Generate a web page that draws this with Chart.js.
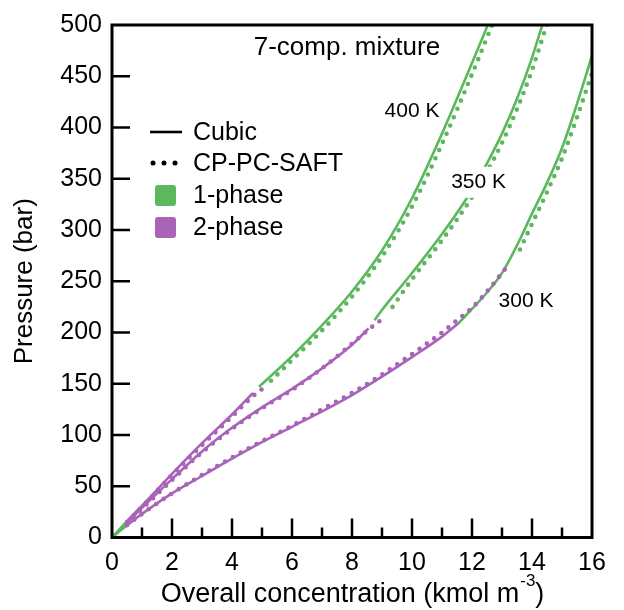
<!DOCTYPE html>
<html lang="en">
<head>
<meta charset="UTF-8">
<title>7-comp. mixture</title>
<style>
  body { margin: 0; background: #fff; }
  canvas { display: block; }
</style>
</head>
<body>
<canvas id="myChart" width="624" height="610"></canvas>
<script src="https://cdn.jsdelivr.net/npm/chart.js"></script>
<script>
// concentration (kmol m-3) and pressure (bar)
const vapX = [0, 0.5];
const vap400Y = [0, 16];
const vap350Y = [0, 14.5];
const vap300Y = [0, 12];

const cubic400TwoX = [0.5, 1, 2, 3, 4, 4.7];
const cubic400TwoY = [16, 31, 62, 92, 120, 141];
const cubic400OneX = [4.9, 6, 7, 8, 9, 10, 11, 12, 12.5, 12.6];
const cubic400OneY = [147, 177, 207, 240, 280, 331, 394, 463, 498, 505];
const saft400TwoX = [0.5, 1, 2, 3, 4, 4.7, 5.1];
const saft400TwoY = [15, 30, 61, 90, 118, 138, 147];
const saft400OneX = [5.3, 6, 7, 8, 9, 10, 11, 12, 12.7];
const saft400OneY = [153, 173, 202, 235, 274, 323, 384, 452, 502];

const cubic350TwoX = [0.5, 1, 2, 3, 4, 5, 6, 7, 8, 8.55];
const cubic350TwoY = [14.5, 29, 57, 84, 107, 127, 145, 165, 188, 204];
const cubic350OneX = [8.75, 9, 10, 11, 12, 12.5, 13, 13.5, 14, 14.3, 14.4];
const cubic350OneY = [212, 222, 258, 296, 339, 365, 394, 428, 468, 496, 505];
const saft350TwoX = [0.5, 1, 2, 3, 4, 5, 6, 7, 8, 8.6, 9.05];
const saft350TwoY = [14, 28, 56, 83, 106, 126, 144, 165, 189, 204, 214];
const saft350OneX = [9.35, 10, 11, 12, 12.5, 13, 13.5, 14, 14.5];
const saft350OneY = [225, 252, 290, 332, 357, 385, 418, 456, 501];

const cubic300TwoX = [0.5, 1, 2, 3, 4, 5, 6, 7, 8, 9, 10, 11, 11.55];
const cubic300TwoY = [12, 23, 43, 60, 77, 93, 108, 123, 139, 157, 176, 196, 209];
const cubic300OneX = [11.55, 12, 12.5, 13, 13.5, 14, 14.5, 15, 15.5, 16];
const cubic300OneY = [209, 223, 239, 258, 285, 316, 346, 380, 423, 470];
const saft300TwoX = [0.5, 1, 2, 3, 4, 5, 6, 7, 8, 9, 10, 11, 11.5, 12, 12.5, 13, 13.25];
const saft300TwoY = [12, 23, 43, 61, 78, 94, 109, 125, 141, 159, 179, 200, 212, 224, 240, 258, 267];
const saft300OneX = [13.6, 14, 14.5, 15, 15.5, 16];
const saft300OneY = [281, 306, 337, 370, 410, 453];

const xTicks = [0, 2, 4, 6, 8, 10, 12, 14, 16];
const yTicks = [0, 50, 100, 150, 200, 250, 300, 350, 400, 450, 500];

const GREEN = '#5cb85c';
const PURPLE = '#a864b6';
const FONT = '"Liberation Sans", Arial, sans-serif';

function pts(xs, ys) {
    return xs.map((v, i) => ({ x: v, y: ys[i] }));
}
function solid(xs, ys, color) {
    return {
        data: pts(xs, ys), borderColor: color, borderWidth: 2.6,
        pointRadius: 0, cubicInterpolationMode: 'monotone', order: 2
    };
}
function dotted(xs, ys, color) {
    return {
        data: pts(xs, ys), borderColor: color, borderWidth: 4.6,
        borderDash: [0, 9], borderCapStyle: 'round',
        pointRadius: 0, cubicInterpolationMode: 'monotone', order: 1
    };
}

const datasets = [
    solid(vapX, vap400Y, GREEN), solid(vapX, vap350Y, GREEN), solid(vapX, vap300Y, GREEN),
    solid(cubic400TwoX, cubic400TwoY, PURPLE), solid(cubic400OneX, cubic400OneY, GREEN),
    solid(cubic350TwoX, cubic350TwoY, PURPLE), solid(cubic350OneX, cubic350OneY, GREEN),
    solid(cubic300TwoX, cubic300TwoY, PURPLE), solid(cubic300OneX, cubic300OneY, GREEN),
    dotted(saft400TwoX, saft400TwoY, PURPLE), dotted(saft400OneX, saft400OneY, GREEN),
    dotted(saft350TwoX, saft350TwoY, PURPLE), dotted(saft350OneX, saft350OneY, GREEN),
    dotted(saft300TwoX, saft300TwoY, PURPLE), dotted(saft300OneX, saft300OneY, GREEN)
];

// frame, inward ticks, titles, labels and legend
const decor = {
    id: 'decor',
    afterDraw(chart) {
        const ctx = chart.ctx;
        const a = chart.chartArea;
        const xs = chart.scales.x, ys = chart.scales.y;
        ctx.save();
        ctx.strokeStyle = '#000';
        ctx.lineWidth = 2.5;
        ctx.beginPath();
        for (let v = 1; v < 16; v++) {
            const px = xs.getPixelForValue(v);
            ctx.moveTo(px, a.bottom);
            ctx.lineTo(px, a.bottom - (v % 2 ? 10 : 19));
        }
        for (let v = 50; v < 500; v += 50) {
            const py = ys.getPixelForValue(v);
            ctx.moveTo(a.left, py);
            ctx.lineTo(a.left + 18, py);
        }
        ctx.stroke();
        ctx.lineWidth = 3;
        ctx.strokeRect(a.left, a.top, a.right - a.left, a.bottom - a.top);

        ctx.fillStyle = '#000';
        // y title
        ctx.save();
        ctx.translate(25, (a.top + a.bottom) / 2);
        ctx.rotate(-Math.PI / 2);
        ctx.font = '26px ' + FONT;
        ctx.textAlign = 'center';
        ctx.textBaseline = 'middle';
        ctx.fillText('Pressure (bar)', 0, 0);
        ctx.restore();

        // x title with superscript
        const main = 'Overall concentration (kmol m', sup = '-3', close = ')';
        ctx.textAlign = 'left';
        ctx.textBaseline = 'alphabetic';
        ctx.font = '27px ' + FONT;
        const w1 = ctx.measureText(main).width, w3 = ctx.measureText(close).width;
        ctx.font = '17px ' + FONT;
        const w2 = ctx.measureText(sup).width;
        const sx = (a.left + a.right) / 2 - (w1 + w2 + w3) / 2;
        const base = 602;
        ctx.font = '27px ' + FONT;
        ctx.fillText(main, sx, base);
        ctx.font = '17px ' + FONT;
        ctx.fillText(sup, sx + w1 + 1, base - 16);
        ctx.font = '27px ' + FONT;
        ctx.fillText(close, sx + w1 + w2 + 1, base);

        // annotations
        ctx.textAlign = 'center';
        ctx.textBaseline = 'middle';
        ctx.font = '26px ' + FONT;
        ctx.fillText('7-comp. mixture', xs.getPixelForValue(7.83), ys.getPixelForValue(478));
        ctx.font = '21px ' + FONT;
        ctx.fillText('400 K', xs.getPixelForValue(10.0), ys.getPixelForValue(416));
        const lx = xs.getPixelForValue(12.22), ly = ys.getPixelForValue(347);
        ctx.fillStyle = '#fff';
        ctx.fillRect(lx - 30, ly - 15, 60, 31);
        ctx.fillStyle = '#000';
        ctx.fillText('350 K', lx, ly);
        ctx.fillText('300 K', xs.getPixelForValue(13.8), ys.getPixelForValue(231));

        // legend
        ctx.textAlign = 'left';
        ctx.font = '25px ' + FONT;
        ctx.lineWidth = 2.6;
        ctx.beginPath();
        ctx.moveTo(150, 132);
        ctx.lineTo(182, 132);
        ctx.stroke();
        ctx.fillText('Cubic', 193, 133);
        [153, 164, 175].forEach(cx => {
            ctx.beginPath();
            ctx.arc(cx, 163, 2.5, 0, Math.PI * 2);
            ctx.fill();
        });
        ctx.fillText('CP-PC-SAFT', 193, 164);
        ctx.fillStyle = GREEN;
        ctx.beginPath();
        ctx.roundRect(155, 185, 21, 21, 3);
        ctx.fill();
        ctx.fillStyle = PURPLE;
        ctx.beginPath();
        ctx.roundRect(155, 217, 21, 21, 3);
        ctx.fill();
        ctx.fillStyle = '#000';
        ctx.fillText('1-phase', 193, 196);
        ctx.fillText('2-phase', 193, 228);
        ctx.restore();
    }
};

new Chart(document.getElementById('myChart').getContext('2d'), {
    type: 'line',
    data: { datasets: datasets },
    options: {
        responsive: false,
        animation: false,
        devicePixelRatio: 1,
        layout: { padding: { top: 21, right: 32, bottom: 0, left: 0 } },
        plugins: { legend: { display: false }, tooltip: { enabled: false } },
        scales: {
            x: {
                type: 'linear', min: 0, max: 16,
                afterBuildTicks: s => { s.ticks = xTicks.map(v => ({ value: v })); },
                afterFit: s => { s.height = 72.5; },
                grid: { display: false, drawTicks: false },
                border: { display: false },
                ticks: { color: '#000', padding: 11, maxRotation: 0, font: { size: 25, family: FONT } }
            },
            y: {
                type: 'linear', min: 0, max: 500,
                afterBuildTicks: s => { s.ticks = yTicks.map(v => ({ value: v })); },
                afterFit: s => { s.width = 112; },
                grid: { display: false, drawTicks: false },
                border: { display: false },
                ticks: { color: '#000', padding: 10, font: { size: 25, family: FONT } }
            }
        }
    },
    plugins: [decor]
});
</script>
</body>
</html>
